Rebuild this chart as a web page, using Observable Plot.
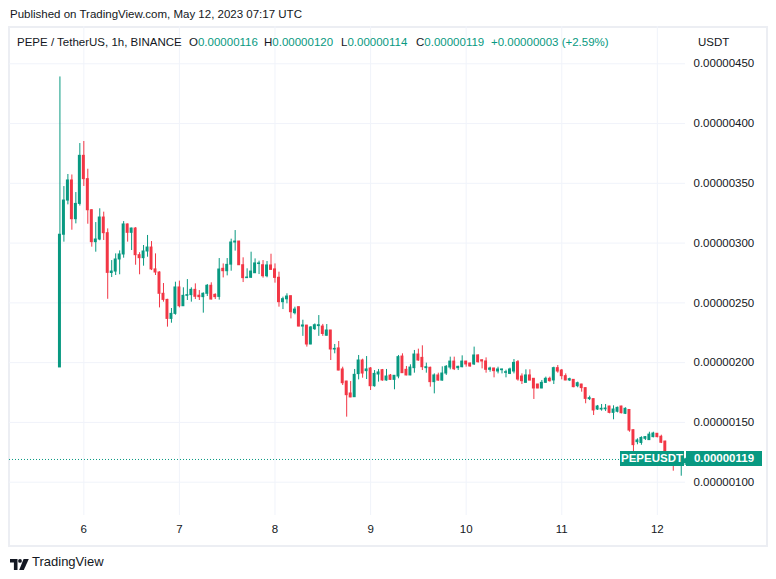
<!DOCTYPE html>
<html><head><meta charset="utf-8">
<script src="https://cdn.jsdelivr.net/npm/d3@7"></script>
<script src="https://cdn.jsdelivr.net/npm/@observablehq/plot@0.6"></script>
<style>
body{margin:0;background:#fff;}
#wrap{position:relative;width:776px;height:579px;overflow:hidden;font-family:"Liberation Sans",Arial,sans-serif;color:#131722;}
#frame{position:absolute;left:8px;top:26px;width:756px;height:517px;border:2px solid #eceef3;}
#chart{position:absolute;left:0;top:0;}
.t{position:absolute;white-space:nowrap;font-size:11.5px;line-height:14px;}
.g{color:#089981;}
.box{position:absolute;background:#089981;color:#fff;font-weight:bold;font-size:11.5px;line-height:15px;height:15px;text-align:center;white-space:nowrap;}
</style></head><body>
<div id="wrap">
  <div id="frame"></div>
  <div id="chart"></div>
  <div class="t" style="left:10px;top:7px;">Published on TradingView.com, May 12, 2023 07:17 UTC</div>
  <div class="t" style="left:17px;top:35px;">PEPE / TetherUS, 1h, BINANCE</div>
  <div class="t" style="left:189px;top:35px;">O<span class="g" id="vO"></span></div>
  <div class="t" style="left:264px;top:35px;">H<span class="g" id="vH"></span></div>
  <div class="t" style="left:341px;top:35px;">L<span class="g" id="vL"></span></div>
  <div class="t" style="left:416px;top:35px;">C<span class="g" id="vC"></span></div>
  <div class="t g" style="left:491px;top:35px;" id="vChg"></div>
  <div class="t" style="left:698px;top:35px;">USDT</div>
  <div style="position:absolute;left:10px;top:556px;"><svg width="19" height="11" viewBox="0 0 19 11"><path d="M0 0h7.5v11h-3.6v-7.4h-3.9z" fill="#131722"/><circle cx="10" cy="1.9" r="1.9" fill="#131722"/><path d="M13.6 0h5.2l-5 11h-4.6z" fill="#131722"/></svg></div>
  <div class="t" style="left:32px;top:554px;font-size:13px;line-height:15px;">TradingView</div>
</div>
<script>
// Prices in units of 1e-8 USDT, hourly candles starting 2023-05-05 18:00 UTC
const UNIT = 1e-8;
const firstCandle = "2023-05-05T18:00:00Z";
const open8 = [196,307,335.6,352.4,320,332.8,373,353.5,327.5,300.8,303,321.4,308.3,275,276.2,286.3,290.5,315.6,308.6,312.2,289.9,287.4,293,296.3,278,275.4,257.6,252.5,236.6,240.8,262.9,247.2,255.9,256.5,260.9,256,254.8,257.6,264.3,256.7,255,278.5,276.5,282,300.5,301.3,281.5,270.7,271,274.8,282.5,281.5,272.3,281.3,278,271,250.6,253,255.6,241.4,246.4,230.2,231,215.2,228,230.6,230.2,222.5,226.9,211,211.9,194.3,184.2,174.2,171.1,190.4,201.8,192.9,195.1,180.3,190.1,193.7,185.1,189.2,185.6,188.4,205.1,194,189.3,195.4,206.8,204,195.4,195.7,183.7,189.3,185,190.9,195.9,200.9,195.4,196.2,200.9,199.3,198.5,206,202,201,194,195.1,192.6,193.7,191.5,190.6,192.6,200.4,188.4,183.1,189.3,186.5,181.7,178.4,183.1,186.5,185.1,195.4,193.4,188.7,185.1,185.6,180.3,181.7,178.7,169.5,169.5,160.8,160.8,161,163.3,158,158.9,163.3,157.2,160.4,143.5,133.5,132.8,136.3,135.2,137.7,140.5,138,134,121,116,114.5,115.5,116];
const high8 = [439,347.3,357.4,357,342.3,383.3,385,361.8,328,317.2,328.7,325.9,311.9,285.4,291,293.5,318,316,312.5,313,292,298,306.4,301.3,291,276,266.2,253,245.3,267.3,268.2,262.6,269.5,262.6,265.9,260.3,258.4,265.4,266.8,257.6,287.1,282.6,287.1,303.3,310.5,301.5,287.7,278.5,292.4,286.8,284.9,285.4,284.6,290.7,282.6,275.7,254.8,257.6,255.8,246.4,246.6,235.5,231.2,230.2,232.4,239.4,232,231.9,227,215.2,217.7,196.2,184.4,184.2,194.3,206,202.9,205.1,195.9,193.4,194.3,194.3,194.3,190.1,189.2,206,207.4,196.8,198.2,210.2,211.3,214.1,199.6,196.2,190.6,191.2,196.5,197.6,204.6,204.6,197,205.7,201.1,199.5,213,206.6,202.2,204,196.2,195.3,196.2,194.5,193.7,195.4,202.6,201.8,190.6,194,194,186.7,181.9,185.1,187.9,187.9,196.2,197.6,194.3,190.6,187,185.8,183.7,181.9,178.9,172,169.7,164.2,165,165,163.5,163.9,162.8,163.5,162.2,160.6,143.7,136.3,138,138.2,141.8,141.8,140.7,139.3,134.2,122.5,117,117.5,117,120];
const low8 = [196,300.8,332,310.8,316.1,331,347.4,315.8,296.6,292.4,302,302.2,253,271.2,272.9,273.5,287.4,300.8,293.8,281.5,273.5,280.7,288.2,277,272.9,245.8,250.6,229.7,233,239.7,245.8,247,252,250.6,252.8,252,241.4,255.3,252.5,252.8,252.3,270.9,272.6,276.5,293.3,281.3,267,270.5,270.5,274.6,273.7,270.7,271,277.4,266.5,246.4,244.4,249.2,236.6,240,230,222,213,215,226.9,222,222,222.2,201.8,207.4,193.2,180.9,154.4,170.7,170.9,185.6,187,185.9,176.7,179.5,183.7,184.5,184.5,185.1,177.3,186.5,191,189,189.1,191.2,201.2,193.4,191.2,179.5,173.9,184.5,184.5,189.3,194,193.4,193.4,195.7,196.2,196.2,197.6,199.6,194.8,191.2,192,187.3,190.6,190.6,187.3,190,190.6,184.5,181.7,183,184.8,169.2,178.2,178.2,182.8,183.7,181.7,191.2,185.6,184.9,184.2,179,179,175.3,165.6,168.3,155.8,160,159.4,159.2,157.2,152.2,158,157.2,156.6,141.8,125.1,131.3,130.9,134.9,134.9,137.1,137.1,132.3,118,114.5,109.2,114,105,114];
const close8 = [307,335.6,352.4,320,332.8,373,353.5,327.5,300.8,303,321.4,308.3,275.1,276.2,286.3,290.5,315.6,308.6,312.2,289.9,287.4,293,296.3,278,275.4,257.6,252.5,236.6,240.8,262.9,247.2,255.9,256.5,260.9,255.1,254.8,257.6,264.3,252.8,254.8,277.9,276.5,281.8,300.5,301.3,281.5,270.7,271.2,276.2,283,283,272.3,281.3,277.6,270.9,250.6,253.1,255.3,242.2,244.4,230.2,231.1,215.2,229.4,231.3,231.3,224,226.9,211,211.5,193.4,182.8,172.8,170.9,189.8,201.8,190.9,194.3,180.3,190.6,191.8,185.1,188.4,185.6,189,204.6,191.2,189.3,195.9,206.8,201.8,196.2,196.2,183.7,189.3,185,190.9,196.5,200.9,194.5,196.5,200.9,198.5,196.8,206,200.4,201,194,195.1,192.9,194.3,194.3,192,194.3,199.8,185.9,184.5,189.3,185,178.4,178.4,183.1,186.5,184.5,195.4,192.6,188.7,185.1,186.2,179.5,182.8,178.7,169.7,170.3,160,163.3,161.4,161.6,158,160.8,162.2,157.7,161.4,143.2,131,134.9,137,137.7,139.8,140.7,137.7,133,121,116,114.5,115.5,116,119];
const dayLabels = [6, 7, 8, 9, 10, 11, 12];
const priceTicks8 = [100, 150, 200, 250, 300, 350, 400, 450];
const headerValues = {O: "0.00000116", H: "0.00000120", L: "0.00000114", C: "0.00000119", chg: "+0.00000003 (+2.59%)"};
const symbol = "PEPEUSDT";

const HOUR = 3600e3;
const t0 = Date.parse(firstCandle);
const candles = open8.map((o, i) => ({
  t: new Date(t0 + i * HOUR),
  open: o * UNIT, high: high8[i] * UNIT, low: low8[i] * UNIT, close: close8[i] * UNIT
}));
const GREEN = "#089981", RED = "#f23645";
const col = d => d.close >= d.open ? GREEN : RED;
const dayTicks = dayLabels.map(d => new Date(Date.UTC(2023, 4, d)));
const priceTicks = priceTicks8.map(v => v * UNIT);
const last = candles[candles.length - 1];
const day6 = Date.UTC(2023, 4, 6);

const chart = Plot.plot({
  width: 776, height: 579,
  marginTop: 26, marginBottom: 64, marginLeft: 9, marginRight: 91,
  style: {background: "transparent", fontFamily: '"Liberation Sans", Arial, sans-serif', fontSize: "11.5px", color: "#131722", overflow: "visible"},
  x: {type: "utc", domain: [new Date(day6 - 18.66 * HOUR), new Date(day6 + 151.07 * HOUR)]},
  y: {domain: [72.14 * UNIT, 481.2 * UNIT]},
  color: {type: "identity"},
  marks: [
    Plot.gridX(dayTicks, {stroke: "#f0f3fa", strokeOpacity: 1}),
    Plot.gridY(priceTicks, {stroke: "#f0f3fa", strokeOpacity: 1}),
    Plot.ruleY([last.close], {stroke: GREEN, strokeDasharray: "1,2"}),
    Plot.ruleX(candles, {x: "t", y1: "low", y2: "high", stroke: col, strokeWidth: 1}),
    Plot.rect(candles, {x1: d => new Date(+d.t - 0.37 * HOUR), x2: d => new Date(+d.t + 0.37 * HOUR), y1: "open", y2: "close", fill: col, insetTop: -0.5, insetBottom: -0.5}),
    Plot.axisX(dayTicks, {tickFormat: d => d.getUTCDate(), tickSize: 0, tickPadding: 9, label: null, fill: "#131722"}),
    Plot.axisY(priceTicks, {anchor: "right", tickFormat: d => d.toFixed(8), tickSize: 0, tickPadding: 8, label: null, fill: "#131722"})
  ]
});
document.getElementById("chart").appendChild(chart);

document.getElementById("vO").textContent = headerValues.O;
document.getElementById("vH").textContent = headerValues.H;
document.getElementById("vL").textContent = headerValues.L;
document.getElementById("vC").textContent = headerValues.C;
document.getElementById("vChg").textContent = headerValues.chg;

// last-price labels positioned through the chart scales
const yLast = chart.scale("y").apply(last.close);
const xRight = chart.scale("x").range[1];
const wrap = document.getElementById("wrap");
const b1 = document.createElement("div");
b1.className = "box"; b1.textContent = symbol;
b1.style.left = (xRight - 65) + "px"; b1.style.width = "64px"; b1.style.top = (yLast - 7.5) + "px";
wrap.appendChild(b1);
const b2 = document.createElement("div");
b2.className = "box"; b2.textContent = last.close.toFixed(8);
b2.style.left = (xRight + 1) + "px"; b2.style.width = "76px"; b2.style.top = (yLast - 7.5) + "px";
wrap.appendChild(b2);
</script>
</body></html>
